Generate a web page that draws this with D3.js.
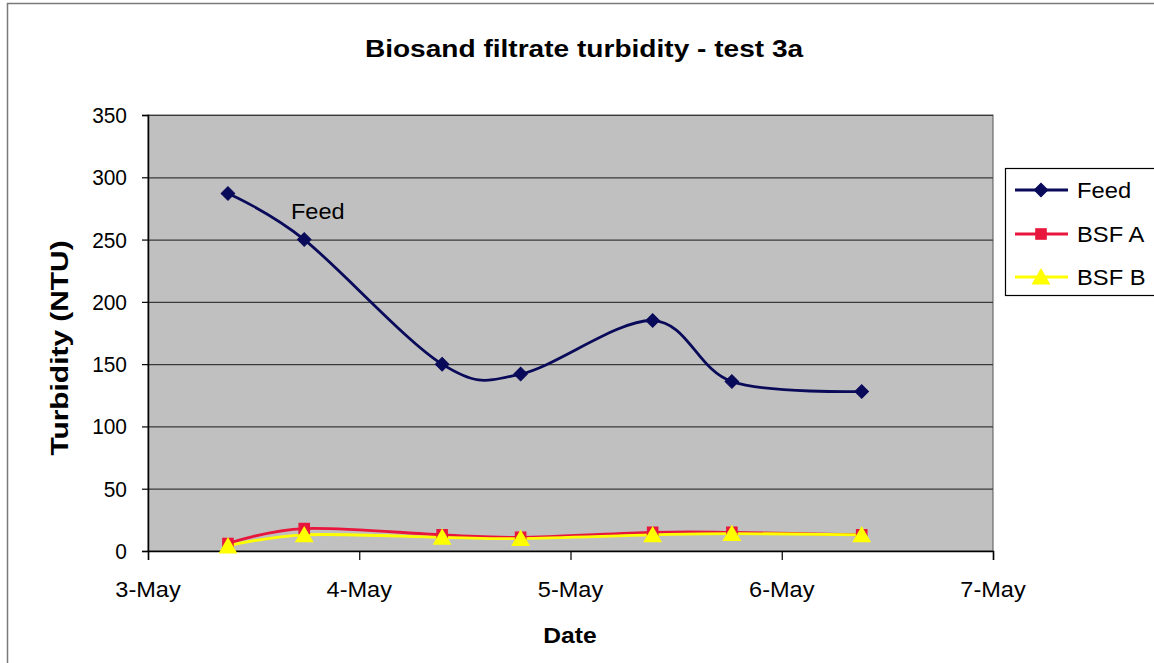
<!DOCTYPE html>
<html>
<head>
<meta charset="utf-8">
<script src="https://cdn.jsdelivr.net/npm/d3@7"></script>
<style>
  html, body { margin: 0; padding: 0; background: #fff; }
  svg { display: block; }
  text { font-family: "Liberation Sans", Arial, sans-serif; fill: #000; }
</style>
</head>
<body>
<svg id="chart" width="1154" height="663"></svg>
<script>
// Sampling times (lab readings, morning and evening)
const sampleTimes = [
  "2007-05-03T09:05", "2007-05-03T17:45",
  "2007-05-04T09:25", "2007-05-04T18:20",
  "2007-05-05T09:20", "2007-05-05T18:20",
  "2007-05-06T09:05"
];
// Turbidity readings (NTU)
const feed = [287, 250, 150, 142, 185, 136, 128];
const bsfA = [6, 18, 13, 11, 15, 15, 13];
const bsfB = [4, 13, 11, 10, 13, 14, 13];

const seriesNames = ["Feed", "BSF A", "BSF B"];
const yTicks = [0, 50, 100, 150, 200, 250, 300, 350];
const xTickDates = ["2007-05-03", "2007-05-04", "2007-05-05", "2007-05-06", "2007-05-07"];

const parseTime = d3.timeParse("%Y-%m-%dT%H:%M");
const parseDay = d3.timeParse("%Y-%m-%d");
const fmtDay = d3.timeFormat("%-d-%b");

const svg = d3.select("#chart");

// Chart frame
svg.append("rect")
  .attr("x", 7.5).attr("y", 3.5)
  .attr("width", 1160).attr("height", 680)
  .attr("fill", "#fff").attr("stroke", "#7a7a7a").attr("stroke-width", 1.5);

const plot = { left: 148, right: 993, top: 115, bottom: 551 };

const x = d3.scaleTime()
  .domain([parseDay(xTickDates[0]), parseDay(xTickDates[xTickDates.length - 1])])
  .range([plot.left, plot.right]);
const y = d3.scaleLinear().domain([0, 350]).range([plot.bottom, plot.top]);

// Plot area
svg.append("rect")
  .attr("x", plot.left).attr("y", plot.top)
  .attr("width", plot.right - plot.left).attr("height", plot.bottom - plot.top)
  .attr("fill", "#c0c0c0").attr("stroke", "#555").attr("stroke-width", 1);

// Horizontal gridlines
svg.append("g")
  .selectAll("line")
  .data(yTicks)
  .join("line")
  .attr("x1", plot.left).attr("x2", plot.right)
  .attr("y1", d => y(d) + 0.5).attr("y2", d => y(d) + 0.5)
  .attr("stroke", "#3a3a3a").attr("stroke-width", 1.2);

// Helper: horizontally scaled text
function stretched(g, str, tx, ty, size, sx, anchor, weight) {
  return g.append("text")
    .attr("transform", `translate(${tx},${ty}) scale(${sx},1)`)
    .attr("text-anchor", anchor || "start")
    .style("font-size", size + "px")
    .style("font-weight", weight || "normal")
    .text(str);
}

// Y axis
const yAxis = svg.append("g")
  .attr("transform", `translate(${plot.left},0)`)
  .call(d3.axisLeft(y).tickValues(yTicks).tickSize(6).tickFormat(""));
yAxis.select(".domain").attr("stroke", "#000").attr("stroke-width", 1.5);
yAxis.selectAll(".tick line").attr("stroke", "#000").attr("stroke-width", 1.2);
const yLab = svg.append("g");
yTicks.forEach(v => stretched(yLab, d3.format("d")(v), 127, y(v) + 8, 22, 0.95, "end"));

// X axis
const xAxis = svg.append("g")
  .attr("transform", `translate(0,${plot.bottom})`)
  .call(d3.axisBottom(x).tickValues(xTickDates.map(parseDay)).tickSize(9).tickFormat(""));
xAxis.select(".domain").attr("stroke", "#000").attr("stroke-width", 1.5);
xAxis.selectAll(".tick line").attr("stroke", "#000").attr("stroke-width", 1.2);
const xLab = svg.append("g");
xTickDates.forEach(s => stretched(xLab, fmtDay(parseDay(s)), x(parseDay(s)), 597, 22, 1.07, "middle"));

// Titles
stretched(svg, "Biosand filtrate turbidity - test 3a", 584, 57, 24, 1.17, "middle", "bold");
stretched(svg, "Date", 570, 643, 22, 1.12, "middle", "bold");
svg.append("text")
  .attr("transform", `translate(68,348) rotate(-90) scale(1.3,1)`)
  .attr("text-anchor", "middle")
  .style("font-size", "23px").style("font-weight", "bold")
  .text("Turbidity (NTU)");

// Series
const times = sampleTimes.map(parseTime);
const series = [
  { name: seriesNames[0], values: feed, color: "#0a0a5a", marker: "diamond" },
  { name: seriesNames[1], values: bsfA, color: "#e8163c", marker: "square" },
  { name: seriesNames[2], values: bsfB, color: "#ffff00", marker: "triangle" }
];

const line = d3.line()
  .x((d, i) => x(times[i]))
  .y(d => y(d))
  .curve(d3.curveCardinal.tension(0));

const symbolFor = {
  diamond: d3.symbol().type(d3.symbolSquare).size(92),
  square: d3.symbol().type(d3.symbolSquare).size(135),
  triangle: d3.symbol().type(d3.symbolTriangle).size(155)
};
const rotFor = { diamond: 45, square: 0, triangle: 0 };

series.forEach(s => {
  svg.append("path")
    .datum(s.values)
    .attr("d", line)
    .attr("fill", "none")
    .attr("stroke", s.color)
    .attr("stroke-width", 2.8);
});
series.forEach(s => {
  svg.append("g")
    .selectAll("path")
    .data(s.values)
    .join("path")
    .attr("d", symbolFor[s.marker])
    .attr("transform", (d, i) => `translate(${x(times[i])},${y(d) + (s.marker === "triangle" ? 2 : 0)}) rotate(${rotFor[s.marker]})`)
    .attr("fill", s.color)
    .attr("stroke", s.marker === "diamond" ? s.color : "none");
});

// In-plot label for the feed line
stretched(svg, "Feed", 291, 219, 22, 1.07, "start");

// Legend
const legend = svg.append("g");
legend.append("rect")
  .attr("x", 1005.5).attr("y", 168.5)
  .attr("width", 170).attr("height", 127)
  .attr("fill", "#fff").attr("stroke", "#000").attr("stroke-width", 1.2);
const legY = [190, 234, 277];
series.forEach((s, i) => {
  const ly = legY[i];
  legend.append("line")
    .attr("x1", 1015).attr("x2", 1068)
    .attr("y1", ly).attr("y2", ly)
    .attr("stroke", s.color).attr("stroke-width", 2.8);
  legend.append("path")
    .attr("d", symbolFor[s.marker])
    .attr("transform", `translate(1041,${ly + (s.marker === "triangle" ? 2 : 0)}) rotate(${rotFor[s.marker]})`)
    .attr("fill", s.color)
    .attr("stroke", s.marker === "diamond" ? s.color : "none");
  stretched(legend, s.name, 1077, ly + 8, 22, 1.08, "start");
});
</script>
</body>
</html>
